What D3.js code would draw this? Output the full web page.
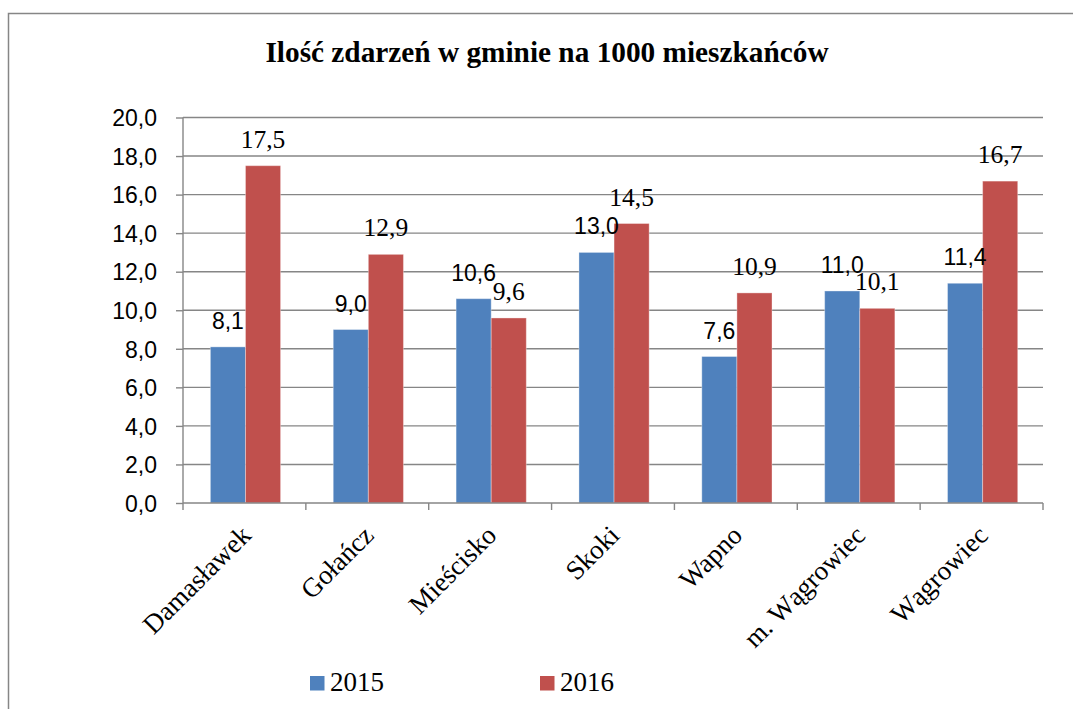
<!DOCTYPE html>
<html>
<head>
<meta charset="utf-8">
<script src="https://cdn.jsdelivr.net/npm/d3@7"></script>
<style>
  body { margin: 0; background: #fff; }
  svg { display: block; }
</style>
</head>
<body>
<svg id="chart" width="1073" height="709"></svg>
<script>
// data
var categories = ["Damasławek", "Gołańcz", "Mieścisko", "Skoki", "Wapno", "m. Wągrowiec", "Wągrowiec"];
var values2015 = [8.1, 9.0, 10.6, 13.0, 7.6, 11.0, 11.4];
var values2016 = [17.5, 12.9, 9.6, 14.5, 10.9, 10.1, 16.7];
var seriesNames = ["2015", "2016"];
var yTicks = [0, 2, 4, 6, 8, 10, 12, 14, 16, 18, 20];

var colours = d3.scaleOrdinal().domain(seriesNames).range(["#4F81BD", "#C0504D"]);
var gridCol = "#868686";
var fmt = function(v){ return d3.format(".1f")(v).replace(".", ","); };

var svg = d3.select("#chart");

// outer frame (runs off the right and bottom edge)
svg.append("rect")
  .attr("x", 8.5).attr("y", 13.5)
  .attr("width", 1100).attr("height", 740)
  .attr("fill", "none").attr("stroke", gridCol).attr("stroke-width", 1.5);

var margin = {left: 183, right: 30, top: 117.5, bottom: 206};
var plotW = 1073 - margin.left - margin.right;
var plotH = 709 - margin.top - margin.bottom;

var x = d3.scaleBand().domain(categories).range([0, plotW]);
// excel-style gap width 150%: band = 3.5 bar widths
var barW = x.bandwidth() / 3.5;
var yScale = d3.scaleLinear().domain([0, 20]).range([plotH, 0]);

var g = svg.append("g").attr("transform", "translate(" + margin.left + "," + margin.top + ")");

// gridlines
g.append("g").selectAll("line")
  .data(yTicks.filter(d => d > 0))
  .enter().append("line")
  .attr("x1", 0).attr("x2", plotW)
  .attr("y1", d => yScale(d)).attr("y2", d => yScale(d))
  .attr("stroke", gridCol).attr("stroke-width", 1.4);

// y axis
var yAxis = g.append("g")
  .call(d3.axisLeft(yScale).tickValues(yTicks).tickSize(7).tickFormat(fmt));
yAxis.select(".domain").remove();
yAxis.selectAll(".tick line").attr("stroke", gridCol).attr("stroke-width", 1.4);
yAxis.selectAll(".tick text")
  .attr("x", -26).attr("dy", "0.36em")
  .attr("fill", "#000")
  .style("font-family", "'Liberation Sans', Arial, sans-serif")
  .style("font-size", "23px");
g.append("line").attr("x1", 0).attr("x2", 0).attr("y1", 0).attr("y2", plotH)
  .attr("stroke", gridCol).attr("stroke-width", 1.4);

// bars
var rows = categories.map(function(c, i){ return {name: c, vals: [values2015[i], values2016[i]]}; });
var groups = g.selectAll(".cat").data(rows).enter().append("g")
  .attr("class", "cat")
  .attr("transform", d => "translate(" + (x(d.name) + 0.78 * barW) + ",0)");

groups.selectAll("rect")
  .data(d => d.vals.map((v, j) => ({s: seriesNames[j], v: v, j: j})))
  .enter().append("rect")
  .attr("x", d => d.j * barW)
  .attr("width", barW)
  .attr("y", d => yScale(d.v))
  .attr("height", d => plotH - yScale(d.v))
  .attr("fill", d => colours(d.s))
  .attr("stroke", "rgba(255,255,255,0.35)").attr("stroke-width", 1);

// value labels: 2015 in sans, 2016 in serif (as in the original)
groups.selectAll("text")
  .data(d => d.vals.map((v, j) => ({s: seriesNames[j], v: v, j: j})))
  .enter().append("text")
  .attr("x", d => d.j * barW + barW / 2)
  .attr("y", d => yScale(d.v) - 18)
  .attr("text-anchor", "middle")
  .style("font-family", d => d.j === 0 ? "'Liberation Sans', Arial, sans-serif" : "'Liberation Serif', 'Times New Roman', serif")
  .style("font-size", d => d.j === 0 ? "23px" : "25.5px")
  .text(d => fmt(d.v));

// x axis line and ticks at band edges
g.append("line").attr("x1", 0).attr("x2", plotW).attr("y1", plotH).attr("y2", plotH)
  .attr("stroke", gridCol).attr("stroke-width", 1.4);
var edges = categories.map(c => x(c)).concat([plotW]);
g.append("g").selectAll("line").data(edges).enter().append("line")
  .attr("x1", d => d).attr("x2", d => d)
  .attr("y1", plotH).attr("y2", plotH + 7)
  .attr("stroke", gridCol).attr("stroke-width", 1.4);

// rotated category labels
g.append("g").selectAll("text").data(categories).enter().append("text")
  .attr("transform", d => "translate(" + (x(d) + x.bandwidth() / 2 + 8) + "," + (plotH + 34) + ") rotate(-45)")
  .attr("text-anchor", "end")
  .style("font-family", "'Liberation Serif', 'Times New Roman', serif")
  .style("font-size", "27px")
  .text(d => d);

// title
svg.append("text")
  .attr("x", 547).attr("y", 61.5)
  .attr("text-anchor", "middle")
  .style("font-family", "'Liberation Serif', 'Times New Roman', serif")
  .style("font-weight", "bold")
  .style("font-size", "29.3px")
  .text("Ilość zdarzeń w gminie na 1000 mieszkańców");

// legend
var legX = [310, 540];
var leg = svg.append("g").selectAll("g").data(seriesNames).enter().append("g")
  .attr("transform", (d, i) => "translate(" + legX[i] + ",676)");
leg.append("rect").attr("width", 14.5).attr("height", 14.5).attr("fill", d => colours(d));
leg.append("text")
  .attr("x", 20).attr("y", 14.5)
  .style("font-family", "'Liberation Serif', 'Times New Roman', serif")
  .style("font-size", "27px")
  .text(d => d);
</script>
</body>
</html>
